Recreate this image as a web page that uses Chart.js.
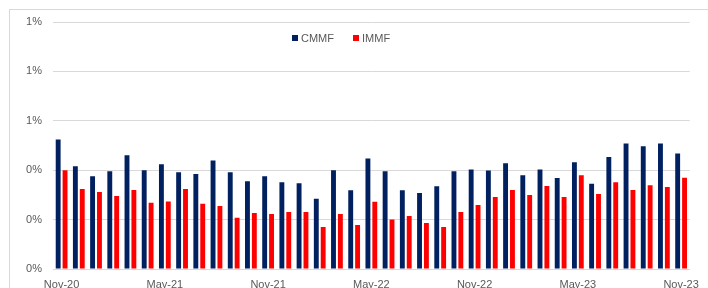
<!DOCTYPE html>
<html>
<head>
<meta charset="utf-8">
<script src="https://cdn.jsdelivr.net/npm/chart.js@4.4.0/dist/chart.umd.min.js"></script>
<style>
html,body{margin:0;padding:0;background:#fff;overflow:hidden}
#frame{position:absolute;left:9px;top:9px;width:720px;height:300px;border:1px solid #d9d9d9}
#wrap{position:absolute;left:0;top:0;width:708px;height:288px}
</style>
</head>
<body>
<div id="frame"></div>
<div id="wrap"><canvas id="c"></canvas></div>
<script>
// months Nov-20 .. Nov-23
const months=['Nov-20','Dec-20','Jan-21','Feb-21','Mar-21','Apr-21','May-21','Jun-21','Jul-21','Aug-21','Sep-21','Oct-21',
 'Nov-21','Dec-21','Jan-22','Feb-22','Mar-22','Apr-22','May-22','Jun-22','Jul-22','Aug-22','Sep-22','Oct-22',
 'Nov-22','Dec-22','Jan-23','Feb-23','Mar-23','Apr-23','May-23','Jun-23','Jul-23','Aug-23','Sep-23','Oct-23','Nov-23'];
const cmmf=[0.524,0.416,0.376,0.396,0.461,0.400,0.424,0.392,0.385,0.439,0.392,0.355,
 0.376,0.351,0.347,0.284,0.400,0.319,0.447,0.396,0.319,0.308,0.335,0.396,
 0.403,0.399,0.428,0.380,0.403,0.368,0.432,0.345,0.453,0.508,0.497,0.508,0.468];
const immf=[0.400,0.324,0.312,0.296,0.320,0.268,0.273,0.324,0.264,0.255,0.207,0.227,
 0.223,0.231,0.231,0.170,0.223,0.178,0.272,0.200,0.215,0.186,0.170,0.231,
 0.259,0.292,0.320,0.300,0.336,0.292,0.380,0.304,0.351,0.320,0.339,0.332,0.369];
const yTicks=[0,0.2,0.4,0.6,0.8,1.0];

const tc='#595959',gc='#d9d9d9';
const FONT={family:'"Liberation Sans", Arial, sans-serif',size:11};

// legend drawn inside the plot like the original
const legendPlugin={
  id:'inLegend',
  afterDraw(chart){
    const ctx=chart.ctx;
    let x=292;const y=38;
    ctx.save();
    ctx.font='11px "Liberation Sans", Arial, sans-serif';
    ctx.textBaseline='middle';
    chart.data.datasets.forEach(ds=>{
      ctx.fillStyle=ds.backgroundColor;
      ctx.fillRect(x,y-3,6,6);
      ctx.fillStyle=tc;
      ctx.fillText(ds.label,x+9,y+0.5);
      x+=61;
    });
    ctx.restore();
  }
};

new Chart(document.getElementById('c'),{
  type:'bar',
  data:{labels:months,datasets:[
    {label:'CMMF',data:cmmf,backgroundColor:'#002060',categoryPercentage:0.8,barPercentage:0.71},
    {label:'IMMF',data:immf,backgroundColor:'#ff0000',categoryPercentage:0.8,barPercentage:0.71}
  ]},
  options:{responsive:true,maintainAspectRatio:false,animation:false,
    layout:{padding:{top:22,right:12,left:0,bottom:0}},
    plugins:{legend:{display:false},tooltip:{enabled:false}},
    scales:{
      x:{grid:{display:false,drawTicks:false},border:{color:gc},
        ticks:{color:tc,font:FONT,autoSkip:false,maxRotation:0,padding:9,
          callback:function(v,i){return i%6===0?this.getLabelForValue(v):null}},
        afterFit:s=>{s.height=19}},
      y:{min:0,max:1.0,grid:{color:gc,drawTicks:false},border:{display:false},
        afterBuildTicks:s=>{s.ticks=yTicks.map(v=>({value:v}))},
        ticks:{color:tc,font:FONT,padding:11,callback:v=>Math.round(v)+'%'},
        afterFit:s=>{s.width=53}}
    }},
  plugins:[legendPlugin]
});
</script>
</body>
</html>
